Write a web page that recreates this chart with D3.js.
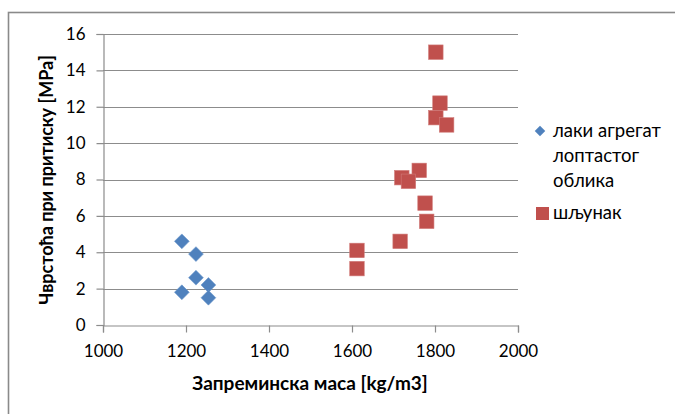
<!DOCTYPE html>
<html>
<head>
<meta charset="utf-8">
<script src="https://cdn.jsdelivr.net/npm/d3@7"></script>
<style>
  html, body { margin: 0; padding: 0; background: #fff; }
  svg { display: block; font-family: Lato, "Open Sans", sans-serif; }
</style>
</head>
<body>
<svg id="chart" width="675" height="414"></svg>
<script>
// Lightweight aggregate (spherical) – density vs. compressive strength
const lakiX = [1190, 1224, 1224, 1254, 1190, 1254];
const lakiY = [4.6, 3.9, 2.6, 2.2, 1.8, 1.5];

// Gravel
const sljunakX = [1802, 1812, 1802, 1828, 1762, 1720, 1736, 1776, 1780, 1716, 1612, 1612];
const sljunakY = [15.0, 12.2, 11.4, 11.0, 8.5, 8.1, 7.9, 6.7, 5.7, 4.6, 4.1, 3.1];

const xTicks = [1000, 1200, 1400, 1600, 1800, 2000];
const yTicks = [0, 2, 4, 6, 8, 10, 12, 14, 16];

const seriesNames = ["лаки агрегат лоптастог облика", "шљунак"];
const xTitle = "Запреминска маса [kg/m3]";
const yTitle = "Чврстоћа при притиску [MPa]";

const blue = "#4F81BD";
const red = "#C0504D";
const gridColor = "#8c8c8c";

const svg = d3.select("#chart");

// outer chart frame
svg.append("rect")
  .attr("x", 8.5).attr("y", 12.5)
  .attr("width", 700).attr("height", 420)
  .attr("fill", "none").attr("stroke", "#8a8a8a").attr("stroke-width", 1.6);

const plot = { left: 103, right: 518, top: 34, bottom: 325 };

const x = d3.scaleLinear().domain([1000, 2000]).range([plot.left, plot.right]);
const y = d3.scaleLinear().domain([0, 16]).range([plot.bottom, plot.top]);

// horizontal gridlines
svg.append("g")
  .selectAll("line")
  .data(yTicks.filter(d => d > 0))
  .join("line")
  .attr("x1", plot.left).attr("x2", plot.right)
  .attr("y1", d => Math.round(y(d)) + 0.5).attr("y2", d => Math.round(y(d)) + 0.5)
  .attr("stroke", gridColor).attr("stroke-width", 1.2);

// y axis
const yAxis = svg.append("g")
  .attr("transform", `translate(${plot.left + 0.5},0)`)
  .call(d3.axisLeft(y).tickValues(yTicks).tickSize(7).tickPadding(11).tickFormat(d3.format("d")));

// x axis
const xAxis = svg.append("g")
  .attr("transform", `translate(0,${Math.round(plot.bottom) + 0.5})`)
  .call(d3.axisBottom(x).tickValues(xTicks).tickSize(7).tickPadding(12).tickFormat(d3.format("d")));

[xAxis, yAxis].forEach(g => {
  g.select(".domain").attr("stroke", gridColor).attr("stroke-width", 1.2);
  g.selectAll(".tick line").attr("stroke", gridColor).attr("stroke-width", 1.2);
  g.selectAll(".tick text")
    .attr("fill", "#000")
    .style("font-family", "Lato, sans-serif")
    .style("font-size", "17px");
});

// axis titles
svg.append("text")
  .attr("x", 310).attr("y", 390)
  .attr("text-anchor", "middle")
  .style("font-size", "19px").style("font-weight", "bold")
  .text(xTitle);

svg.append("text")
  .attr("transform", "translate(53,180) rotate(-90)")
  .attr("text-anchor", "middle")
  .style("font-size", "18px").style("font-weight", "bold")
  .text(yTitle);

// markers
const diamond = d3.symbol().type(d3.symbolDiamond2).size(140);
const lakiData = lakiX.map((v, i) => ({ x: v, y: lakiY[i] }));
const sljData = sljunakX.map((v, i) => ({ x: v, y: sljunakY[i] }));

svg.append("g")
  .selectAll("path")
  .data(lakiData)
  .join("path")
  .attr("d", diamond)
  .attr("transform", d => `translate(${x(d.x)},${y(d.y)})`)
  .attr("fill", blue)
  .attr("stroke", "#6d98cb").attr("stroke-width", 0.6);

const sq = 14.5;
svg.append("g")
  .selectAll("rect")
  .data(sljData)
  .join("rect")
  .attr("x", d => x(d.x) - sq / 2)
  .attr("y", d => y(d.y) - sq / 2)
  .attr("width", sq).attr("height", sq)
  .attr("fill", red)
  .attr("stroke", "#d07a78").attr("stroke-width", 0.6);

// legend
const legend = svg.append("g");
legend.append("path")
  .attr("d", d3.symbol().type(d3.symbolDiamond2).size(70))
  .attr("transform", "translate(540,131)")
  .attr("fill", blue);
const lines = ["лаки агрегат", "лоптастог", "облика"];
legend.append("text")
  .attr("x", 553).attr("y", 137)
  .style("font-size", "18.5px")
  .selectAll("tspan")
  .data(lines)
  .join("tspan")
  .attr("x", 553)
  .attr("dy", (d, i) => i === 0 ? 0 : 25)
  .text(d => d);

legend.append("rect")
  .attr("x", 536).attr("y", 207)
  .attr("width", 13).attr("height", 13)
  .attr("fill", red);
legend.append("text")
  .attr("x", 553).attr("y", 219)
  .style("font-size", "18.5px")
  .text(seriesNames[1]);
</script>
</body>
</html>
